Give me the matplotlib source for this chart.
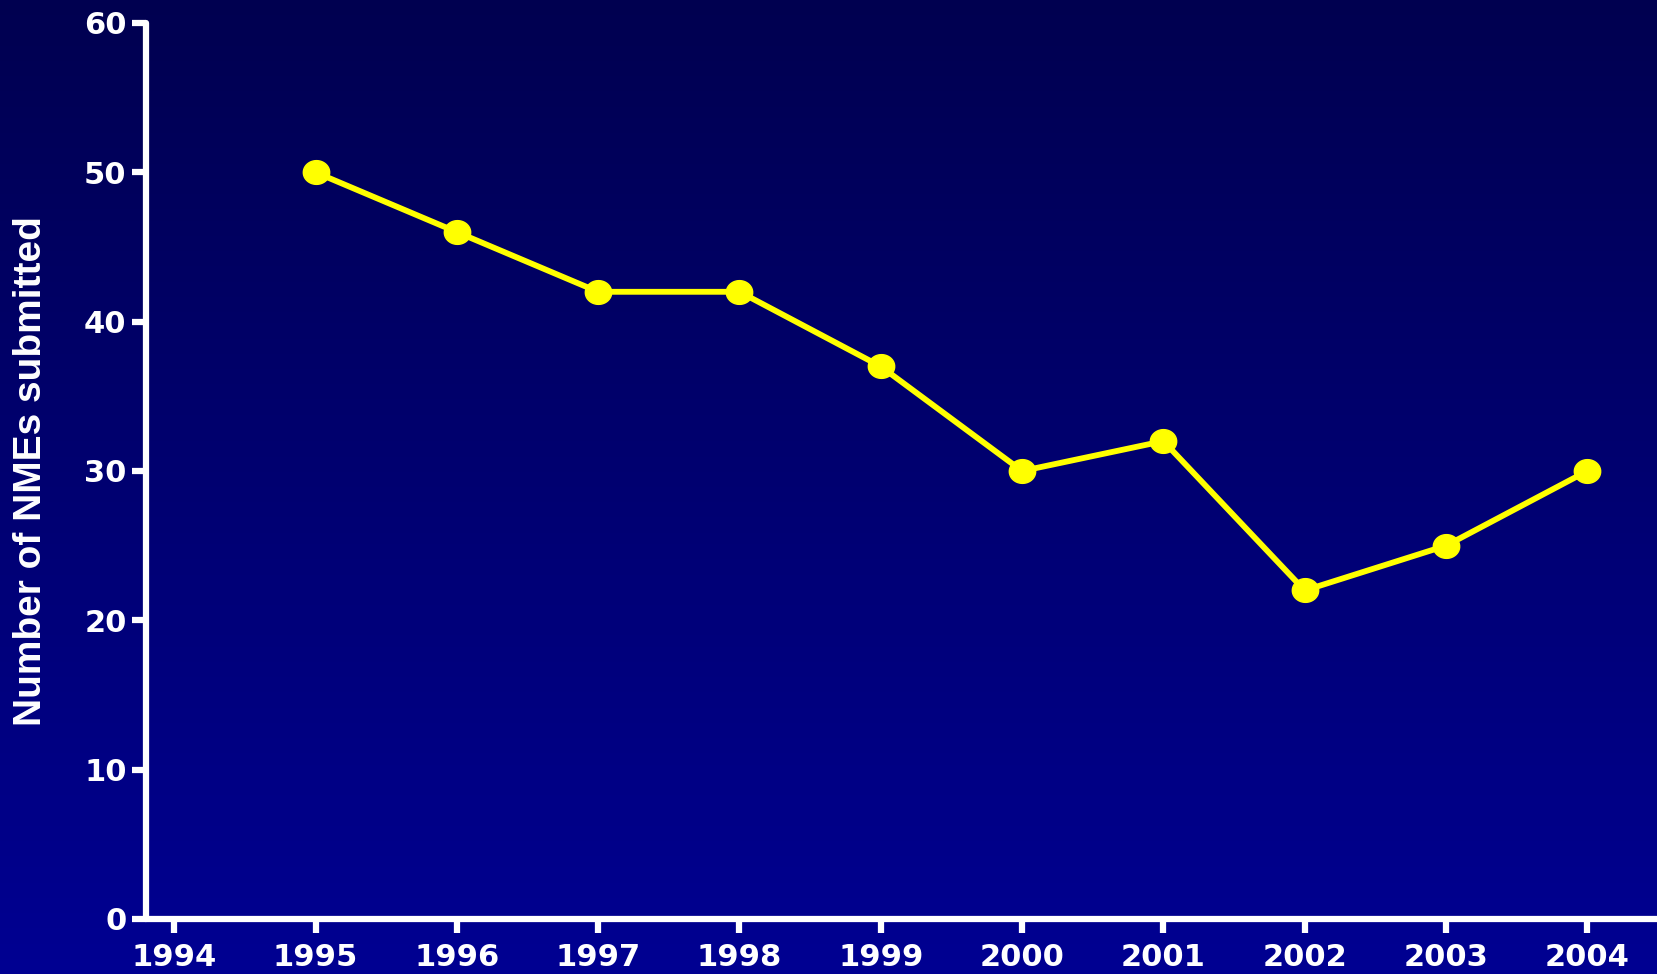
import numpy as np
import matplotlib
matplotlib.use("Agg")
import matplotlib.pyplot as plt
from matplotlib.path import Path

years = [1995, 1996, 1997, 1998, 1999, 2000, 2001, 2002, 2003, 2004]
nmes = [50, 46, 42, 42, 37, 30, 32, 22, 25, 30]
xticks = [1994, 1995, 1996, 1997, 1998, 1999, 2000, 2001, 2002, 2003, 2004]
yticks = [0, 10, 20, 30, 40, 50, 60]
ylabel = "Number of NMEs submitted"

W, H = 1658, 974
fig = plt.figure(figsize=(W / 100, H / 100), dpi=100)

# gradient background
bg = fig.add_axes([0, 0, 1, 1], zorder=-10)
top = np.array([0, 0, 80]) / 255.0
bot = np.array([0, 0, 146]) / 255.0
t = np.linspace(0, 1, 256)[:, None]
grad = top[None, :] * (1 - t) + bot[None, :] * t
img = np.repeat(grad[:, None, :], 2, axis=1)
bg.imshow(img, aspect="auto", extent=[0, 1, 0, 1])
bg.axis("off")

left = 146 / W
bottom = 1 - 919 / H
topy = 1 - 23 / H
ax = fig.add_axes([left, bottom, 1 - left, topy - bottom])
ax.set_facecolor("none")

# ellipse marker
th = np.linspace(0, 2 * np.pi, 60)
ell = Path(np.column_stack([np.cos(th), 0.9 * np.sin(th)]))

ax.plot(years, nmes, color="#FFFF00", lw=4.2, marker=ell, markersize=19,
        markerfacecolor="#FFFF00", markeredgecolor="#FFFF00", clip_on=False, zorder=3)

ax.set_xlim(1993.8, 2004.5)
ax.set_ylim(0, 60)
ax.set_xticks(xticks)
ax.set_yticks(yticks)

for s in ["top", "right"]:
    ax.spines[s].set_visible(False)
for s in ["left", "bottom"]:
    ax.spines[s].set_color("white")
    ax.spines[s].set_linewidth(4.5)
    ax.spines[s].set_capstyle("round")

ax.tick_params(axis="both", colors="white", width=4.5, length=10)
ax.tick_params(axis="x", pad=7)
ax.tick_params(axis="y", pad=4)
for lab in ax.get_xticklabels() + ax.get_yticklabels():
    lab.set_fontfamily("DejaVu Sans")
    lab.set_fontweight("bold")
    lab.set_fontsize(22)
    lab.set_color("white")
for tl in ax.xaxis.get_ticklines() + ax.yaxis.get_ticklines():
    tl.set_solid_capstyle("round")

fig.text(31 / W, 1 - 471 / H, ylabel, rotation=90, ha="center", va="center",
         color="white", fontsize=28, fontweight="bold", family="Liberation Sans")

fig.savefig("out.png", dpi=100)
